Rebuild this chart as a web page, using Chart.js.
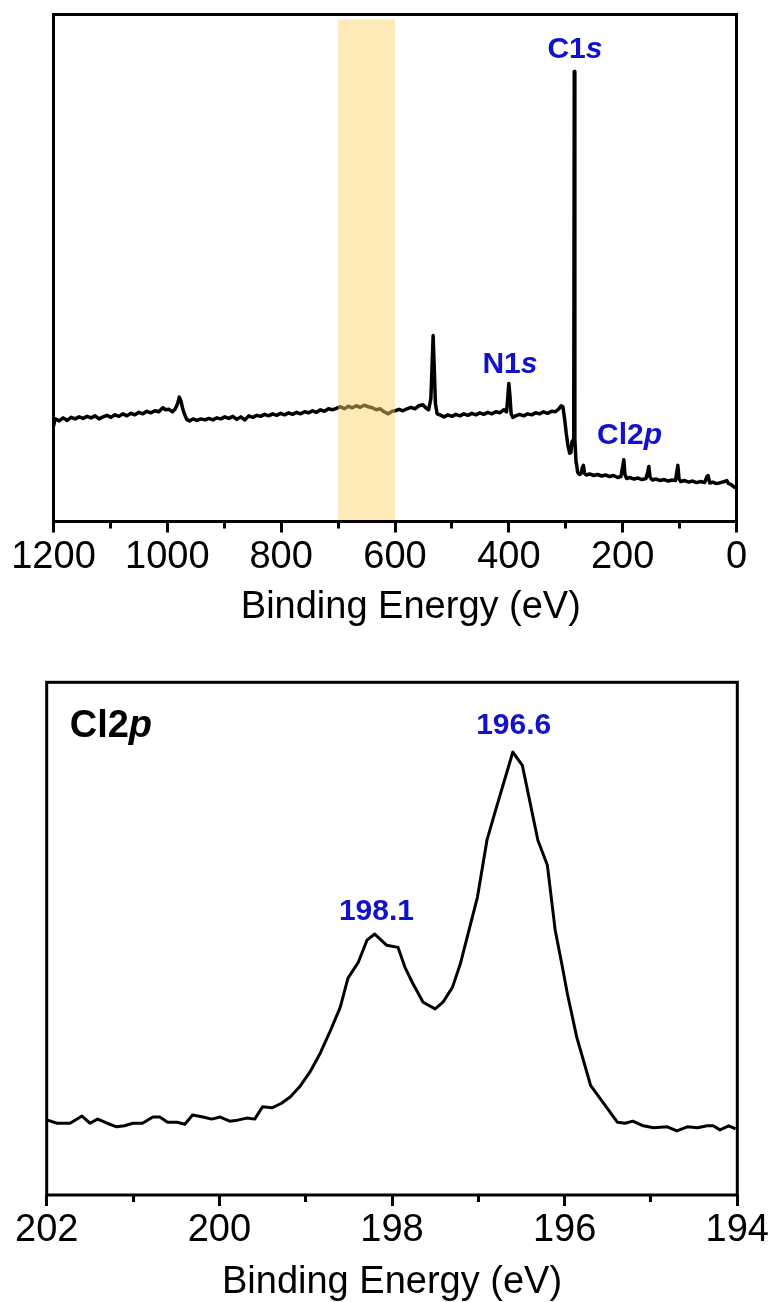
<!DOCTYPE html>
<html>
<head>
<meta charset="utf-8">
<script src="https://cdn.jsdelivr.net/npm/chart.js@4.4.1/dist/chart.umd.min.js"></script>
<style>
  html, body { margin: 0; padding: 0; background: #fff; }
  canvas { display: block; }
</style>
</head>
<body>
<canvas id="survey" width="773" height="640"></canvas>
<canvas id="cl2p" width="773" height="662"></canvas>
<script>
const FONT = '"Liberation Sans", Arial, Helvetica, sans-serif';
const BLUE = '#1212cc';

// survey spectrum (binding energy eV / intensity a.u.)
const survey_be = [1200,1197,1190,1183,1176,1169,1162,1155,1148,1141,1134,1127,1120,1113,1106,1099,1092,1085,1078,1071,1064,1057,1050,1043,1036,1029,1022,1015,1008,1003,997,991,986,982,979,976,973,970,966,961,955,948,941,934,927,920,913,906,899,892,885,878,871,864,857,850,843,836,829,822,815,808,801,794,787,780,773,766,759,752,745,738,731,724,717,710,703,696,689,682,675,668,661,654,647,640,633,626,619,612,605,600,593,586,579,572,565,558,551,546,541,537,535,533,531,529,526,521,514,507,500,493,486,479,472,465,458,451,444,437,430,423,416,409,404,402,400,398,396,393,388,381,374,367,360,353,346,339,332,325,318,312,308,305,302,299,296,293,291,289,286,285,284,282,281,279,276,273,271,269,267,264,258,251,244,237,230,223,216,209,203,200,198,196,193,187,180,173,166,159,156,154,152,148,141,134,127,120,113,107,105,103,101,98,91,84,77,70,63,56,52,50,47,42,35,28,21,17,14,9,5,0];
const survey_int = [18.5,20.0,19.6,20.2,19.7,20.3,20.0,20.4,20.1,20.5,20.2,20.6,20.0,20.4,20.7,20.3,20.8,20.5,21.0,20.6,21.1,20.8,21.3,21.0,21.5,21.2,21.6,21.4,22.2,21.8,21.9,21.4,22.0,23.0,24.3,23.5,22.0,21.0,19.9,19.6,20.0,19.7,20.0,19.8,20.1,19.8,20.2,20.0,20.4,20.1,20.5,19.9,20.4,19.8,20.6,20.3,20.7,20.5,20.9,20.6,21.0,20.7,21.1,20.8,21.2,20.9,21.3,21.0,21.4,21.2,21.6,21.3,21.8,21.5,22.0,21.8,22.1,22.4,22.0,22.5,22.2,22.6,22.3,22.7,22.4,22.2,21.8,22.0,21.4,21.0,21.5,21.6,21.9,21.6,22.0,22.3,22.0,22.6,22.8,22.2,21.8,24.0,30.0,36.5,30.0,23.0,21.0,20.8,20.4,20.8,20.5,20.9,20.6,21.0,20.7,21.1,20.8,21.2,20.9,21.3,21.0,21.4,21.2,21.8,21.4,24.0,27.0,24.5,21.0,20.3,20.6,20.9,20.6,21.0,20.8,21.2,21.0,21.4,21.1,21.5,21.4,22.0,22.6,22.4,20.0,17.0,14.6,13.2,13.3,15.5,16.0,88.7,16.0,11.5,11.0,9.4,9.0,9.2,10.3,10.8,9.2,8.9,9.1,8.8,9.0,8.7,8.9,8.6,8.8,8.4,8.6,10.5,11.9,9.0,8.2,8.4,8.1,8.3,8.0,8.2,9.5,10.6,8.5,7.9,8.1,7.8,8.0,7.7,7.9,7.8,9.5,10.8,8.2,7.6,7.8,7.5,7.7,7.4,7.6,7.4,8.6,8.8,7.3,7.5,7.2,7.4,7.6,7.8,7.2,7.0,6.6,6.3];
const survey_major = [1200, 1000, 800, 600, 400, 200, 0];
const survey_minor = [1100, 900, 700, 500, 300, 100];
const highlight_be = [700, 600];
const survey_peaks = ['C1s', 'N1s', 'Cl2p'];
const survey_peak_be = [283.8, 398, 188];

// Cl 2p high resolution
const cl_be = [201.99,201.88,201.73,201.59,201.50,201.41,201.30,201.19,201.10,201.00,200.89,200.77,200.69,200.60,200.49,200.40,200.31,200.19,200.09,199.99,199.88,199.79,199.68,199.59,199.50,199.39,199.28,199.18,199.07,198.95,198.83,198.72,198.60,198.51,198.39,198.29,198.20,198.06,197.93,197.85,197.76,197.64,197.50,197.41,197.30,197.21,197.01,196.90,196.81,196.60,196.49,196.31,196.20,196.11,196.03,195.97,195.86,195.70,195.55,195.39,195.30,195.21,195.09,194.97,194.81,194.70,194.58,194.46,194.35,194.28,194.20,194.10,194.02];
const cl_int = [14.6,14.0,14.0,15.4,14.0,14.8,14.0,13.3,13.5,14.0,14.0,15.2,15.2,14.2,14.2,13.8,15.6,15.2,14.8,15.2,14.4,14.6,15.0,14.8,17.2,17.0,17.9,19.1,21.1,24.0,27.7,31.8,36.6,42.3,45.4,49.7,50.9,48.7,48.3,44.4,41.3,37.6,36.3,37.6,40.5,45.0,58.1,69.2,74.5,86.4,83.8,69.2,64.3,51.7,44.8,39.4,30.8,21.4,17.9,14.2,14.0,14.4,13.5,13.1,13.3,12.5,13.3,13.1,13.5,13.5,12.7,13.5,12.9];
const cl_major = [202, 200, 198, 196, 194];
const cl_minor = [201, 199, 197, 195];
const cl_peaks = ['198.1', '196.6'];
const cl_peak_be = [198.18, 196.59];

const to_xy = (xs, ys) => xs.map((x, i) => ({x: x, y: ys[i]}));

// box around the plot area
const framePlugin = {
    id: 'frame',
    afterDatasetsDraw(chart) {
        const {ctx, chartArea: a} = chart;
        ctx.save();
        ctx.lineWidth = 3;
        ctx.strokeStyle = '#000';
        ctx.strokeRect(a.left, a.top, a.right - a.left, a.bottom - a.top);
        ctx.restore();
    }
};

// peak labels, last letter italic where needed
const labelPlugin = {
    id: 'peakLabels',
    afterDatasetsDraw(chart, args, opts) {
        const ctx = chart.ctx;
        const xs = chart.scales.x, ys = chart.scales.y;
        ctx.save();
        ctx.textBaseline = 'middle';
        ctx.textAlign = 'left';
        for (const it of (opts.items || [])) {
            let x, y;
            if (it.corner) {
                x = chart.chartArea.left + it.dx;
                y = chart.chartArea.top + it.dy;
            } else {
                x = xs.getPixelForValue(it.be);
                y = ys.getPixelForValue(it.at);
            }
            const head = it.italicLast ? it.text.slice(0, -1) : it.text;
            const tail = it.italicLast ? it.text.slice(-1) : '';
            const f1 = `bold ${it.size}px ${FONT}`;
            const f2 = `italic bold ${it.size}px ${FONT}`;
            ctx.font = f1;
            const w1 = ctx.measureText(head).width;
            ctx.font = f2;
            const w2 = ctx.measureText(tail).width;
            const x0 = it.corner ? x : x - (w1 + w2) / 2;
            ctx.fillStyle = it.color;
            ctx.font = f1;
            ctx.fillText(head, x0, y);
            if (tail) {
                ctx.font = f2;
                ctx.fillText(tail, x0 + w1, y);
            }
        }
        ctx.restore();
    }
};

const make_config = (o) => {
    const datasets = [];
    if (o.band) {
        datasets.push({
            data: o.band.map(v => ({x: v, y: 99})),
            borderWidth: 0,
            pointRadius: 0,
            backgroundColor: 'rgba(252, 212, 104, 0.48)',
            fill: 'start',
            order: 0
        });
    }
    datasets.push({
        data: o.data,
        borderColor: '#000',
        borderWidth: o.lineWidth,
        borderJoinStyle: 'round',
        pointRadius: 0,
        tension: 0,
        fill: false,
        order: 1
    });
    return {
        type: 'line',
        data: {datasets: datasets},
        options: {
            responsive: false,
            animation: false,
            events: [],
            layout: {padding: o.padding},
            plugins: {
                legend: {display: false},
                tooltip: {enabled: false},
                peakLabels: {items: o.labels}
            },
            scales: {
                x: {
                    type: 'linear',
                    position: 'bottom',
                    reverse: true,
                    min: o.min, max: o.max,
                    weight: 1,
                    afterBuildTicks: s => { s.ticks = o.major.map(v => ({value: v})); },
                    afterFit: s => { s.height = o.axisHeight; },
                    border: {display: false},
                    grid: {drawOnChartArea: false, drawTicks: true, tickLength: 11, tickWidth: 3, tickColor: '#000'},
                    ticks: {
                        color: '#000',
                        font: {family: FONT, size: 38},
                        padding: 2,
                        maxRotation: 0,
                        autoSkip: false,
                        callback: v => String(v)
                    },
                    title: {
                        display: true,
                        text: o.title,
                        color: '#000',
                        font: {family: FONT, size: 38, lineHeight: 1},
                        padding: {top: 0, bottom: o.titlePad}
                    }
                },
                x2: {
                    type: 'linear',
                    axis: 'x',
                    position: 'bottom',
                    reverse: true,
                    min: o.min, max: o.max,
                    weight: 0,
                    afterBuildTicks: s => { s.ticks = o.minor.map(v => ({value: v})); },
                    afterFit: s => { s.height = 0; },
                    border: {display: false},
                    grid: {drawOnChartArea: false, drawTicks: true, tickLength: 7, tickWidth: 3, tickColor: '#000'},
                    ticks: {display: false}
                },
                y: {display: false, min: o.ymin, max: 100}
            }
        },
        plugins: [framePlugin, labelPlugin]
    };
};

const surveyLabels = [
    {text: survey_peaks[0], be: survey_peak_be[0], at: 93.0, size: 30, color: BLUE, italicLast: true},
    {text: survey_peaks[1], be: survey_peak_be[1], at: 30.7, size: 30, color: BLUE, italicLast: true},
    {text: survey_peaks[2], be: survey_peak_be[2], at: 16.6, size: 30, color: BLUE, italicLast: true}
];

new Chart(document.getElementById('survey'), make_config({
    data: to_xy(survey_be, survey_int),
    band: highlight_be,
    lineWidth: 3.5,
    min: 0, max: 1200, ymin: -0.3,
    major: survey_major, minor: survey_minor,
    padding: {left: 53.5, right: 36.5, top: 14.5, bottom: 0},
    axisHeight: 118.5,
    title: '   Binding Energy (eV)',
    titlePad: 13.5,
    labels: surveyLabels
}));

const clLabels = [
    {text: 'Cl2p', corner: true, dx: 23, dy: 44, size: 38, color: '#000', italicLast: true},
    {text: cl_peaks[0], be: cl_peak_be[0], at: 55.2, size: 30, color: BLUE},
    {text: cl_peaks[1], be: cl_peak_be[1], at: 91.5, size: 30, color: BLUE}
];

new Chart(document.getElementById('cl2p'), make_config({
    data: to_xy(cl_be, cl_int),
    lineWidth: 3,
    min: 194, max: 202, ymin: 0,
    major: cl_major, minor: cl_minor,
    padding: {left: 46.7, right: 35.7, top: 42.3, bottom: 0},
    axisHeight: 107,
    title: 'Binding Energy (eV)',
    titlePad: 0,
    labels: clLabels
}));
</script>
</body>
</html>
